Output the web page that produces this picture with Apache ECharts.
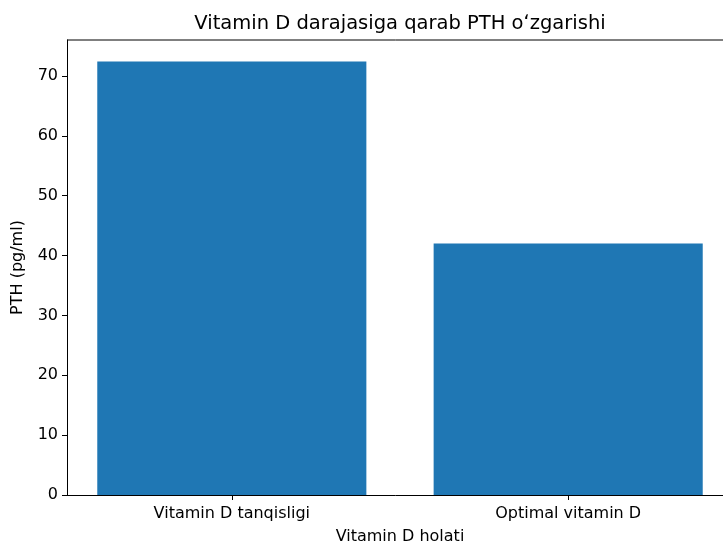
<!DOCTYPE html>
<html>
<head>
<meta charset="utf-8">
<script src="https://cdn.jsdelivr.net/npm/echarts@6/dist/echarts.min.js"></script>
<style>
  html, body { margin: 0; padding: 0; background: #fff; }
  #main { width: 723px; height: 543px; }
</style>
</head>
<body>
<div id="main"></div>
<script>
// data
var categories = ['Vitamin D tanqisligi', 'Optimal vitamin D']
var pthValues = [72.4, 42.0]
var yTicks = [0, 10, 20, 30, 40, 50, 60, 70]

var gridLeft = 67
var gridTop = 40
var gridWidth = 666 // right spine falls just outside the window
var gridHeight = 455
var xMin = -0.49
var xMax = 1.49
var barPx = 0.8 * gridWidth / (xMax - xMin)

var font = 'DejaVu Sans'
var chart = echarts.init(document.getElementById('main'), null, { renderer: 'canvas' })

chart.setOption({
  animation: false,
  title: {
    text: 'Vitamin D darajasiga qarab PTH o\u02bbzgarishi',
    left: gridLeft + gridWidth / 2,
    textAlign: 'center',
    top: 14,
    padding: 0,
    textStyle: { fontFamily: font, fontSize: 19.5, fontWeight: 'normal', color: '#000' }
  },
  // keep the box where it is, do not shrink it to fit labels
  grid: { left: gridLeft, top: gridTop, width: gridWidth, height: gridHeight, outerBoundsMode: 'none', containLabel: false },
  xAxis: {
    type: 'value',
    min: xMin,
    max: xMax,
    name: 'Vitamin D holati',
    nameLocation: 'middle',
    nameGap: 34,
    nameTextStyle: { fontFamily: font, fontSize: 16, color: '#000' },
    axisLine: { show: true, onZero: false, lineStyle: { color: '#000', width: 1 } },
    axisTick: { show: true, length: 5, customValues: [0, 1], lineStyle: { color: '#000' } },
    axisLabel: {
      customValues: [0, 1],
      margin: 11,
      fontFamily: font, fontSize: 16, color: '#000',
      formatter: function (v) { return categories[Math.round(v)] }
    },
    splitLine: { show: false }
  },
  yAxis: {
    type: 'value',
    min: 0,
    max: 76,
    name: 'PTH (pg/ml)',
    nameLocation: 'middle',
    nameGap: 41,
    nameTextStyle: { fontFamily: font, fontSize: 16, color: '#000' },
    axisLine: { show: true, onZero: false, lineStyle: { color: '#000', width: 1 } },
    axisTick: { show: true, length: 5, customValues: yTicks, lineStyle: { color: '#000' } },
    axisLabel: { customValues: yTicks, margin: 9, fontFamily: font, fontSize: 16, color: '#000' },
    splitLine: { show: false }
  },
  series: [
    {
      type: 'bar',
      barWidth: barPx,
      itemStyle: { color: '#1f77b4' },
      data: pthValues.map(function (v, i) { return [i, v] })
    }
  ],
  graphic: [
    // top spine of the axes box
    {
      type: 'line',
      shape: { x1: gridLeft, y1: gridTop, x2: gridLeft + gridWidth, y2: gridTop },
      style: { stroke: '#000', lineWidth: 1 }
    }
  ]
})
</script>
</body>
</html>
